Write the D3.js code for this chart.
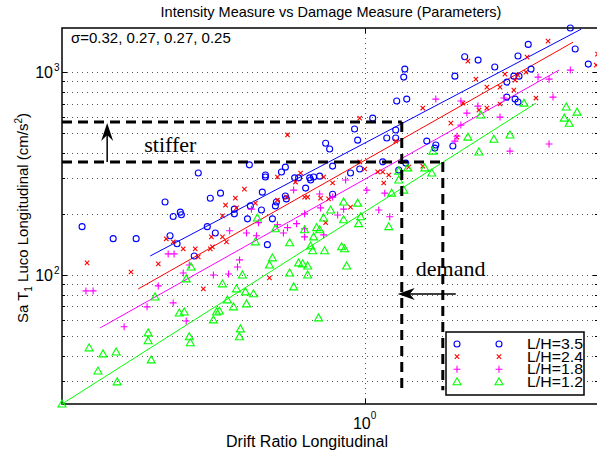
<!DOCTYPE html>
<html>
<head>
<meta charset="utf-8">
<script src="https://cdn.jsdelivr.net/npm/d3@7"></script>
<style>
  body { margin: 0; background: #fff; }
  text { font-family: "Liberation Sans", Arial, Helvetica, sans-serif; }
</style>
</head>
<body>
<script>
// drift ratio, Sa
const lh35 = [[4.78,1650],[3.47,1370],[4.96,1300],[2.14,1190],[2.37,1146],[3.21,1200],[2.69,1059],[5.48,1095],[1.357,1035],[1.346,945],[1.986,955],[3.545,1035],[3.11,955],[3.235,955],[2.95,893],[1.276,720],[1.377,736],[2.95,753],[3.14,736],[3.21,712],[1.063,593],
  [0.1165,173],[0.1476,151],[0.1758,151],[0.219,229],[0.233,194],[0.246,204],[0.248,198],[0.2275,156],[0.240,142.5],[0.2735,124],[0.282,318],[0.302,173],[0.309,239],[0.321,161],[0.334,253],[0.371,211],[0.371,200],[0.410,189],[0.416,349],[0.419,219],[0.456,209],[0.459,256],[0.470,311],[0.470,304],[0.477,141],[0.4957,189],[0.507,219],[0.511,229],[0.531,322],[0.547,340],[0.547,245],[0.551,237],[0.587,301],[0.605,301],
  [0.926,524],[0.948,462],[0.743,446],[0.766,418],[1.183,473],[1.266,473],[1.266,518],[1.604,457],[1.718,437],[1.705,422],[1.956,432],[1.147,361],[1.296,329],[1.367,356],[0.898,318],[0.963,333],[0.7835,344],[0.710,307],[0.678,304],[0.663,294],[0.658,301],[0.638,268],[0.7835,250]];
const lh24 = [[4.035,1421],[3.44,1186],[2.193,1133],[5.82,1083],[5.88,1227],[2.33,923],[2.534,843],[2.80,843],[2.907,978],[3.14,913],[3.21,966],[3.41,1000],[3.68,745],[1.556,665],[2.111,703],[2.385,650],[2.534,665],[2.80,696],[3.11,815],[0.963,593],
  [0.121,114.6],[0.169,103.4],[0.221,150.7],[0.208,113.4],[0.233,145.6],[0.2515,134.5],[0.2756,134.5],[0.282,122.7],[0.3116,154],[0.309,134.5],[0.314,137.6],[0.339,154],[0.3495,145.6],[0.339,195.6],[0.347,221],[0.374,239],[0.377,214],[0.4006,265],[0.4355,226],[0.515,234],[0.515,304],[0.556,490],[0.552,242],[0.591,287],[0.4846,96.7],[0.293,85.4],
  [0.963,361],[1.104,322],[1.147,322],[1.201,311],[1.156,284],[1.0,333],[1.398,340],[1.556,344],[1.926,560],[2.017,478],[1.266,457],[0.7316,304],[0.7835,284],[0.633,242],[0.648,242],[0.715,239],[0.76,237],[0.898,216],[0.743,181],[0.614,318]];
const lh18 = [[4.78,1023],[3.74,945],[4.066,923],[1.718,736],[2.079,720],[2.367,680],[2.80,600],[4.19,753],[2.176,628],[2.885,745],
  [0.120,83.4],[0.1267,83.4],[0.208,88.3],[0.2243,127],[0.2346,127],[0.2515,102.2],[0.2633,112],[0.3164,100],[0.355,101.1],[0.358,165],[0.380,109.5],[0.386,118.6],[0.407,161],[0.439,156],[0.4225,211],[0.4457,181],[0.515,177],[0.539,161],[0.5825,262],[0.5957,179],[0.556,171],
  [2.079,548],[2.017,483],[1.986,457],[3.02,408],[4.066,442],[0.865,294],[1.016,262],[1.165,253],[0.710,250.5],[0.7835,242],[0.852,211],[0.715,214],[0.814,197.5],[0.633,200],[1.113,209],[1.21,193.5],[0.633,169],[0.633,154],[0.732,157.6],
  [0.191,69.6],[0.233,72.8],[0.1604,55.5],[0.2573,59.3]];
const lh12 = [[3.36,703],[4.635,673],[5.03,635],[2.42,614],[4.565,593],[4.74,560],
  [0.267,109.5],[0.442,191],[0.4355,145.6],[0.507,169],[0.565,144],[0.4957,121.3],[0.4846,112],[0.565,102.2],[0.605,114.6],[0.3945,100],[0.339,90.3],[0.377,85.4],[0.4036,82.5],[0.429,80.7],[0.5825,87.3],[0.2573,95.6],[0.203,77.9],
  [2.193,478],[2.673,467],[3.02,490],[2.384,404],[1.679,408],[1.388,337],[1.296,325],[1.58,337],[1.666,318],[1.296,294],[1.346,262],[1.228,253],[0.852,229],[0.948,226],[0.7716,209],[0.970,193.5],[0.852,187],[0.7316,191],[0.955,179],[0.694,171],[0.710,167],[1.201,173],[0.633,167],[0.678,154],[0.663,139],[0.673,131.5],[0.737,131.5],[0.839,137.6],[0.858,134.5],[0.6236,113.4],[0.648,110.7],[0.648,100],[0.872,110.7],
  [0.1229,43.7],[0.1366,40.8],[0.151,41.7],[0.1315,33.6],[0.1521,29.7],[0.1926,51.8],[0.1926,47.4],[0.1971,38.1],[0.244,64.9],[0.2535,65.7],[0.2633,49.6],[0.2654,46.3],[0.3164,60],[0.324,65.7],[0.331,66.4],[0.3685,69.6],[0.407,72],[0.3885,54.2],[0.3855,49.6],[0.352,75.3],[0.1,23.1],[0.704,61.4]];

// fitted lines: [x0, y0, x1, y1]
const fit35 = [0.1956, 124, 5.19, 1628];
const fit24 = [0.1786, 85.3, 4.88, 1405];
const fit18 = [0.1336, 54.8, 4.386, 1023];
const fit12 = [0.1, 23.1, 3.68, 703];

const labels = ["L/H=3.5", "L/H=2.4", "L/H=1.8", "L/H=1.2"];
const sigmaText = "\u03c3=0.32, 0.27, 0.27, 0.25";

// annotation values
const stiffBand = [360, 567];     // Sa
const demandBand = [1.326, 1.812]; // drift
const demandFloor = 27;
const stiffArrowX = 0.141;
const demandArrow = [2.0, 1.286, 80.6];

const xDomain = [0.1, 5.9];
const yDomain = [23.1, 1650];

const W = 597, H = 454;
const L = 62, R = 598, T = 28, B = 404;

const svg = d3.select("body").append("svg")
  .attr("width", W).attr("height", H)
  .style("background-color", "#fff");

const x = d3.scaleLog().domain(xDomain).range([L, R]);
const y = d3.scaleLog().domain(yDomain).range([B, T]);

const yTicks = y.ticks();
const yMajor = yTicks.filter(t => Math.abs(Math.log10(t) % 1) < 1e-9);

// grid
const grid = svg.append("g").attr("stroke", "#555").attr("stroke-dasharray", "1,4");
grid.selectAll("line.h").data(yTicks).enter().append("line")
  .attr("x1", L).attr("x2", R)
  .attr("y1", d => Math.round(y(d)) + 0.5).attr("y2", d => Math.round(y(d)) + 0.5);
grid.append("line")
  .attr("x1", Math.round(x(1)) + 0.5).attr("x2", Math.round(x(1)) + 0.5)
  .attr("y1", T).attr("y2", B);

// ticks (inward, on all sides)
const tk = svg.append("g").attr("stroke", "#000");
yTicks.forEach(t => {
  const len = yMajor.includes(t) ? 5 : 3;
  const yy = Math.round(y(t)) + 0.5;
  tk.append("line").attr("x1", L).attr("x2", L + len).attr("y1", yy).attr("y2", yy);
  tk.append("line").attr("x1", R).attr("x2", R - len).attr("y1", yy).attr("y2", yy);
});
const x1p = Math.round(x(1)) + 0.5;
tk.append("line").attr("x1", x1p).attr("x2", x1p).attr("y1", B).attr("y2", B - 5);
tk.append("line").attr("x1", x1p).attr("x2", x1p).attr("y1", T).attr("y2", T + 5);

// frame
svg.append("rect").attr("x", L).attr("y", T).attr("width", R - L).attr("height", B - T)
  .attr("fill", "none").attr("stroke", "#000").attr("stroke-width", 1.5);

// fit lines
const series = [
  {pts: lh35, fit: fit35, color: "#0000ff", mark: "circle"},
  {pts: lh24, fit: fit24, color: "#ff0000", mark: "x"},
  {pts: lh18, fit: fit18, color: "#ff00ff", mark: "plus"},
  {pts: lh12, fit: fit12, color: "#00ff00", mark: "tri"}
];

const markPath = {
  circle: "M3,0A3,3 0 1,1 -3,0A3,3 0 1,1 3,0Z",
  x: "M-2.2,-2.2L2.2,2.2M-2.2,2.2L2.2,-2.2",
  plus: "M-3.5,0H3.5M0,-3.5V3.5",
  tri: "M0,-4L4,3H-4Z"
};

series.forEach(s => {
  svg.append("line")
    .attr("x1", x(s.fit[0])).attr("y1", y(s.fit[1]))
    .attr("x2", x(s.fit[2])).attr("y2", y(s.fit[3]))
    .attr("stroke", s.color).attr("stroke-width", 1);
});

series.forEach(s => {
  svg.append("g").selectAll("path").data(s.pts).enter().append("path")
    .attr("transform", d => `translate(${x(d[0])},${y(d[1])})`)
    .attr("d", markPath[s.mark])
    .attr("fill", "none").attr("stroke", s.color).attr("stroke-width", 1.1);
});

// dashed annotation lines
const ann = svg.append("g").attr("stroke", "#000").attr("stroke-width", 3)
  .attr("stroke-dasharray", "10,6").attr("fill", "none");
ann.append("line").attr("x1", L).attr("x2", x(demandBand[0]))
  .attr("y1", y(stiffBand[1])).attr("y2", y(stiffBand[1]));
ann.append("line").attr("x1", L).attr("x2", x(demandBand[1]))
  .attr("y1", y(stiffBand[0])).attr("y2", y(stiffBand[0]));
ann.append("line").attr("x1", x(demandBand[0])).attr("x2", x(demandBand[0]))
  .attr("y1", y(stiffBand[1])).attr("y2", y(demandFloor));
ann.append("line").attr("x1", x(demandBand[1])).attr("x2", x(demandBand[1]))
  .attr("y1", y(stiffBand[0])).attr("y2", y(demandFloor));

// arrows
const ax = x(stiffArrowX), ay0 = y(stiffBand[0]), ay1 = y(stiffBand[1]);
svg.append("line").attr("x1", ax).attr("x2", ax).attr("y1", ay0).attr("y2", ay1 + 6)
  .attr("stroke", "#000").attr("stroke-width", 1.5);
svg.append("path")
  .attr("d", `M${ax},${ay1 + 1}L${ax + 6},${ay1 + 19}L${ax},${ay1 + 13}L${ax - 6},${ay1 + 19}Z`)
  .attr("fill", "#000");

const dx0 = x(demandArrow[0]), dx1 = x(demandArrow[1]), dy = y(demandArrow[2]);
svg.append("line").attr("x1", dx0).attr("x2", dx1 + 6).attr("y1", dy).attr("y2", dy)
  .attr("stroke", "#000").attr("stroke-width", 1.5);
svg.append("path")
  .attr("d", `M${dx1},${dy}L${dx1 + 17},${dy - 6}L${dx1 + 12},${dy}L${dx1 + 17},${dy + 6}Z`)
  .attr("fill", "#000");

svg.append("text").attr("x", x(0.187)).attr("y", y(404))
  .style("font-family", "'Liberation Serif','Times New Roman',serif").attr("font-size", 22)
  .text("stiffer");
svg.append("text").attr("x", x(1.475)).attr("y", y(99))
  .style("font-family", "'Liberation Serif','Times New Roman',serif").attr("font-size", 22)
  .text("demand");

// texts
svg.append("text").attr("x", 331).attr("y", 17).attr("text-anchor", "middle")
  .attr("font-size", 14.5).text("Intensity Measure vs Damage Measure (Parameters)");
svg.append("text").attr("x", 71).attr("y", 43).attr("font-size", 15).text(sigmaText);
svg.append("text").attr("x", 307).attr("y", 447).attr("text-anchor", "middle")
  .attr("font-size", 16).text("Drift Ratio Longitudinal");

// y tick labels
yMajor.forEach(t => {
  const yy = y(t);
  svg.append("text").attr("x", 53).attr("y", yy + 6).attr("text-anchor", "end")
    .attr("font-size", 16).text("10");
  svg.append("text").attr("x", 54).attr("y", yy - 1).attr("font-size", 10)
    .text(String(Math.round(Math.log10(t))));
});
// x tick label
svg.append("text").attr("x", x(1) + 6).attr("y", 429).attr("text-anchor", "end")
  .attr("font-size", 16).text("10");
svg.append("text").attr("x", x(1) + 6).attr("y", 419).attr("font-size", 10).text("0");

// y label
const yl = svg.append("text").attr("transform", "translate(28,218) rotate(-90)")
  .attr("text-anchor", "middle").attr("font-size", 15);
yl.append("tspan").text("Sa T");
yl.append("tspan").attr("dy", 4).attr("font-size", 10).text("1");
yl.append("tspan").attr("dy", -4).text(" Luco Longitudinal (cm/s");
yl.append("tspan").attr("dy", -6).attr("font-size", 10).text("2");
yl.append("tspan").attr("dy", 6).text(")");

// legend
const lg = svg.append("g");
lg.append("rect").attr("x", 446).attr("y", 332).attr("width", 138).attr("height", 63)
  .attr("fill", "#fff").attr("stroke", "#000").attr("stroke-width", 1.5);
series.forEach((s, i) => {
  const yy = 344 + i * 12.6;
  [457, 499].forEach(xx => {
    lg.append("path").attr("transform", `translate(${xx},${yy})`)
      .attr("d", markPath[s.mark]).attr("fill", "none")
      .attr("stroke", s.color).attr("stroke-width", 1.1);
  });
  lg.append("text").attr("x", 583).attr("y", yy + 5).attr("text-anchor", "end")
    .attr("font-size", 13).attr("textLength", 56).attr("lengthAdjust", "spacingAndGlyphs")
    .attr("transform", `translate(0,${yy + 5}) scale(1,1.15) translate(0,${-(yy + 5)})`)
    .text(labels[i]);
});
</script>
</body>
</html>
